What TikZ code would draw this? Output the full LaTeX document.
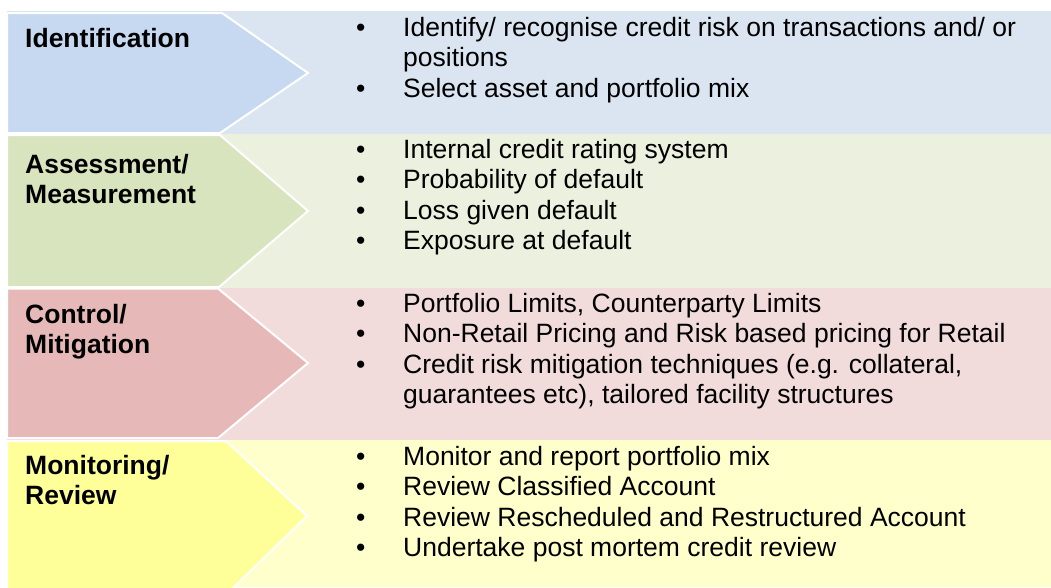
\documentclass[tikz,border=0pt]{standalone}
\usepackage{fontspec}
\setmainfont{Liberation Sans}
\usetikzlibrary{positioning}

\definecolor{idband}{HTML}{DBE5F1}
\definecolor{idchev}{HTML}{C6D9F1}
\definecolor{asband}{HTML}{EBF1DE}
\definecolor{aschev}{HTML}{D7E4BD}
\definecolor{coband}{HTML}{F2DCDB}
\definecolor{cochev}{HTML}{E6B9B8}
\definecolor{moband}{HTML}{FFFFCC}
\definecolor{mochev}{HTML}{FFFF99}

\begin{document}
\begin{tikzpicture}[x=1pt, y=-1pt, line join=miter]
	
	%======================
	% PARAMETERS (edit here)
	%======================
	\def\bx{356}   % x of the bullets
	\def\tx{403}   % x of the bullet texts
	\def\sx{25}    % x of the stage names
	% note: base of a two-line node is its last line
	
	%======================
	% STYLES
	%======================
	\tikzset{
		chev/.style={draw=white, line width=2pt},
		stage/.style={anchor=base west, inner sep=0pt, align=left,
			font=\fontsize{26.5}{30.5}\selectfont\bfseries},
		item/.style={anchor=base west, inner sep=0pt, align=left,
			font=\fontsize{26.5}{30.5}\selectfont},
		dot/.style={anchor=base west, inner sep=0pt,
			font=\fontsize{26.5}{30.5}\selectfont}
	}
	
	\useasboundingbox (0,0) rectangle (1051,587);
	
	%======================
	% ROW 1: Identification
	%======================
	\fill[idband] (7,11) rectangle (1051,134);
	\fill[idchev, chev] (7,13) -- (222,13) -- (308,73) -- (220,133) -- (7,133) -- cycle;
	\node[stage] (idname) at (\sx,47) {Identification};
	
	\node[dot] (iddot1) at (\bx,36) {•};
	\node[item] (iditem1) at (\tx,66.5) {Identify/ recognise credit risk on transactions and/ or\\positions};
	\node[dot] (iddot2) at (\bx,97) {•};
	\node[item] (iditem2) at (\tx,97) {Select asset and portfolio mix};
	
	%======================
	% ROW 2: Assessment/ Measurement
	%======================
	\fill[asband] (7,134) rectangle (1051,288);
	\fill[aschev, chev] (7,135) -- (220,135) -- (308,211) -- (219,287) -- (7,287) -- cycle;
	\node[stage] (asname) at (\sx,203.5) {Assessment/\\Measurement};
	
	\node[dot] (asdot1) at (\bx,158) {•};
	\node[item] (asitem1) at (\tx,158) {Internal credit rating system};
	\node[dot] (asdot2) at (\bx,188.5) {•};
	\node[item] (asitem2) at (\tx,188.5) {Probability of default};
	\node[dot] (asdot3) at (\bx,219) {•};
	\node[item] (asitem3) at (\tx,219) {Loss given default};
	\node[dot] (asdot4) at (\bx,249.5) {•};
	\node[item] (asitem4) at (\tx,249.5) {Exposure at default};
	
	%======================
	% ROW 3: Control/ Mitigation
	%======================
	\fill[coband] (7,288) rectangle (1051,440);
	\fill[cochev, chev] (7,288.5) -- (218,288.5) -- (308,363) -- (218,438) -- (7,438) -- cycle;
	\node[stage] (coname) at (\sx,353.5) {Control/\\Mitigation};
	
	\node[dot] (codot1) at (\bx,312) {•};
	\node[item] (coitem1) at (\tx,312) {Portfolio Limits, Counterparty Limits};
	\node[dot] (codot2) at (\bx,342.5) {•};
	\node[item] (coitem2) at (\tx,342.5) {Non-Retail Pricing and Risk based pricing for Retail};
	\node[dot] (codot3) at (\bx,373) {•};
	\node[item] (coitem3) at (\tx,403.5) {Credit risk mitigation techniques (e.g. collateral,\\guarantees etc), tailored facility structures};
	
	%======================
	% ROW 4: Monitoring/ Review
	%======================
	\fill[moband] (7,440) rectangle (1051,587);
	\fill[mochev, chev] (7,441) -- (226,441) -- (307,516) -- (230,591) -- (7,591) -- cycle;
	\node[stage] (moname) at (\sx,504.5) {Monitoring/\\Review};
	
	\node[dot] (modot1) at (\bx,465) {•};
	\node[item] (moitem1) at (\tx,465) {Monitor and report portfolio mix};
	\node[dot] (modot2) at (\bx,495.5) {•};
	\node[item] (moitem2) at (\tx,495.5) {Review Classified Account};
	\node[dot] (modot3) at (\bx,526) {•};
	\node[item] (moitem3) at (\tx,526) {Review Rescheduled and Restructured Account};
	\node[dot] (modot4) at (\bx,556.5) {•};
	\node[item] (moitem4) at (\tx,556.5) {Undertake post mortem credit review};
	
\end{tikzpicture}
\end{document}
